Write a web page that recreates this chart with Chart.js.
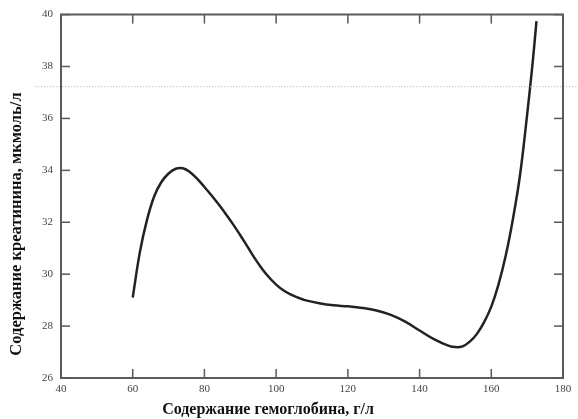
<!DOCTYPE html>
<html><head><meta charset="utf-8">
<script src="https://cdn.jsdelivr.net/npm/chart.js@4/dist/chart.umd.min.js"></script>
<style>html,body{margin:0;padding:0;background:#fff}#wrap{width:578px;height:419px}</style>
</head><body><div id="wrap"><canvas id="c" width="578" height="419"></canvas></div>
<script>
const hemoglobin = [60, 62, 64, 66, 68, 70, 72, 74, 76, 78, 80, 82, 84, 86, 88, 90, 92, 94, 96, 98, 100, 102, 104, 106, 108, 112, 116, 120, 124, 128, 132, 136, 140, 144, 148, 150, 152, 154, 156, 158, 160, 162, 164, 166, 168, 170, 171.5, 172.6];
const creatinine = [29.1, 30.85, 32.1, 33.0, 33.55, 33.88, 34.06, 34.08, 33.93, 33.67, 33.36, 33.03, 32.68, 32.31, 31.92, 31.5, 31.06, 30.62, 30.22, 29.88, 29.6, 29.38, 29.22, 29.1, 29.0, 28.88, 28.8, 28.76, 28.7, 28.6, 28.43, 28.17, 27.83, 27.5, 27.25, 27.19, 27.22, 27.4, 27.7, 28.15, 28.75, 29.6, 30.7, 32.1, 33.8, 36.15, 38.1, 39.75];
const xTicks = [40, 60, 80, 100, 120, 140, 160, 180];
const yTicks = [26, 28, 30, 32, 34, 36, 38, 40];
const dottedLineValue = 37.24;
const xTitle = 'Содержание гемоглобина, г/л';
const yTitle = 'Содержание креатинина, мкмоль/л';

const points = hemoglobin.map((x, i) => ({x, y: creatinine[i]}));

const framePlugin = {
  id: 'frame',
  afterDraw(chart) {
    const ctx = chart.ctx, a = chart.chartArea;
    const xs = chart.scales.x, ys = chart.scales.y;
    ctx.save();
    const yd = ys.getPixelForValue(dottedLineValue);
    ctx.strokeStyle = '#c8c8c8'; ctx.lineWidth = 1; ctx.setLineDash([1.5, 1.5]);
    ctx.beginPath(); ctx.moveTo(35, yd + 0.5); ctx.lineTo(578, yd + 0.5); ctx.stroke();
    ctx.setLineDash([]);
    ctx.strokeStyle = '#5a5a5a'; ctx.lineWidth = 2;
    ctx.beginPath();
    ctx.moveTo(a.left, a.top); ctx.lineTo(a.right, a.top); ctx.lineTo(a.right, a.bottom);
    ctx.lineTo(a.left, a.bottom); ctx.closePath(); ctx.stroke();
    const tl = 9;
    ctx.lineWidth = 1.5;
    xTicks.forEach(v => {
      const px = xs.getPixelForValue(v);
      ctx.beginPath(); ctx.moveTo(px, a.bottom); ctx.lineTo(px, a.bottom - tl); ctx.stroke();
      ctx.beginPath(); ctx.moveTo(px, a.top); ctx.lineTo(px, a.top + tl); ctx.stroke();
    });
    yTicks.forEach(v => {
      const py = ys.getPixelForValue(v);
      ctx.beginPath(); ctx.moveTo(a.left, py); ctx.lineTo(a.left + tl, py); ctx.stroke();
      ctx.beginPath(); ctx.moveTo(a.right, py); ctx.lineTo(a.right - tl, py); ctx.stroke();
    });
    ctx.fillStyle = '#111';
    ctx.font = 'bold 16px "Liberation Serif"';
    ctx.textAlign = 'center'; ctx.textBaseline = 'middle';
    ctx.fillText(xTitle, 268, 410);
    ctx.font = 'bold 16.5px "Liberation Serif"';
    ctx.translate(17, 224); ctx.rotate(-Math.PI / 2);
    ctx.fillText(yTitle, 0, 0);
    ctx.restore();
  }
};

new Chart(document.getElementById('c'), {
  type: 'scatter',
  data: { datasets: [{
    data: points, showLine: true, borderColor: '#222', borderWidth: 2.5,
    pointRadius: 0, tension: 0.4, fill: false
  }]},
  options: {
    responsive: false, animation: false,
    layout: { padding: { top: 10, right: 15, left: 0, bottom: 0 } },
    plugins: { legend: { display: false }, tooltip: { enabled: false } },
    scales: {
      x: {
        type: 'linear', min: 40, max: 180,
        afterBuildTicks: s => { s.ticks = xTicks.map(v => ({value: v})); },
        afterFit: s => { s.height = 41; },
        grid: { display: false, drawTicks: false },
        border: { display: false },
        ticks: { padding: 5, color: '#444', font: { family: 'Liberation Serif', size: 11 }, maxRotation: 0 }
      },
      y: {
        type: 'linear', min: 26, max: 40,
        afterBuildTicks: s => { s.ticks = yTicks.map(v => ({value: v})); },
        afterFit: s => { s.width = 61; },
        grid: { display: false, drawTicks: false },
        border: { display: false },
        ticks: { padding: 8, color: '#444', font: { family: 'Liberation Serif', size: 11 } }
      }
    }
  },
  plugins: [framePlugin]
});
</script></body></html>
